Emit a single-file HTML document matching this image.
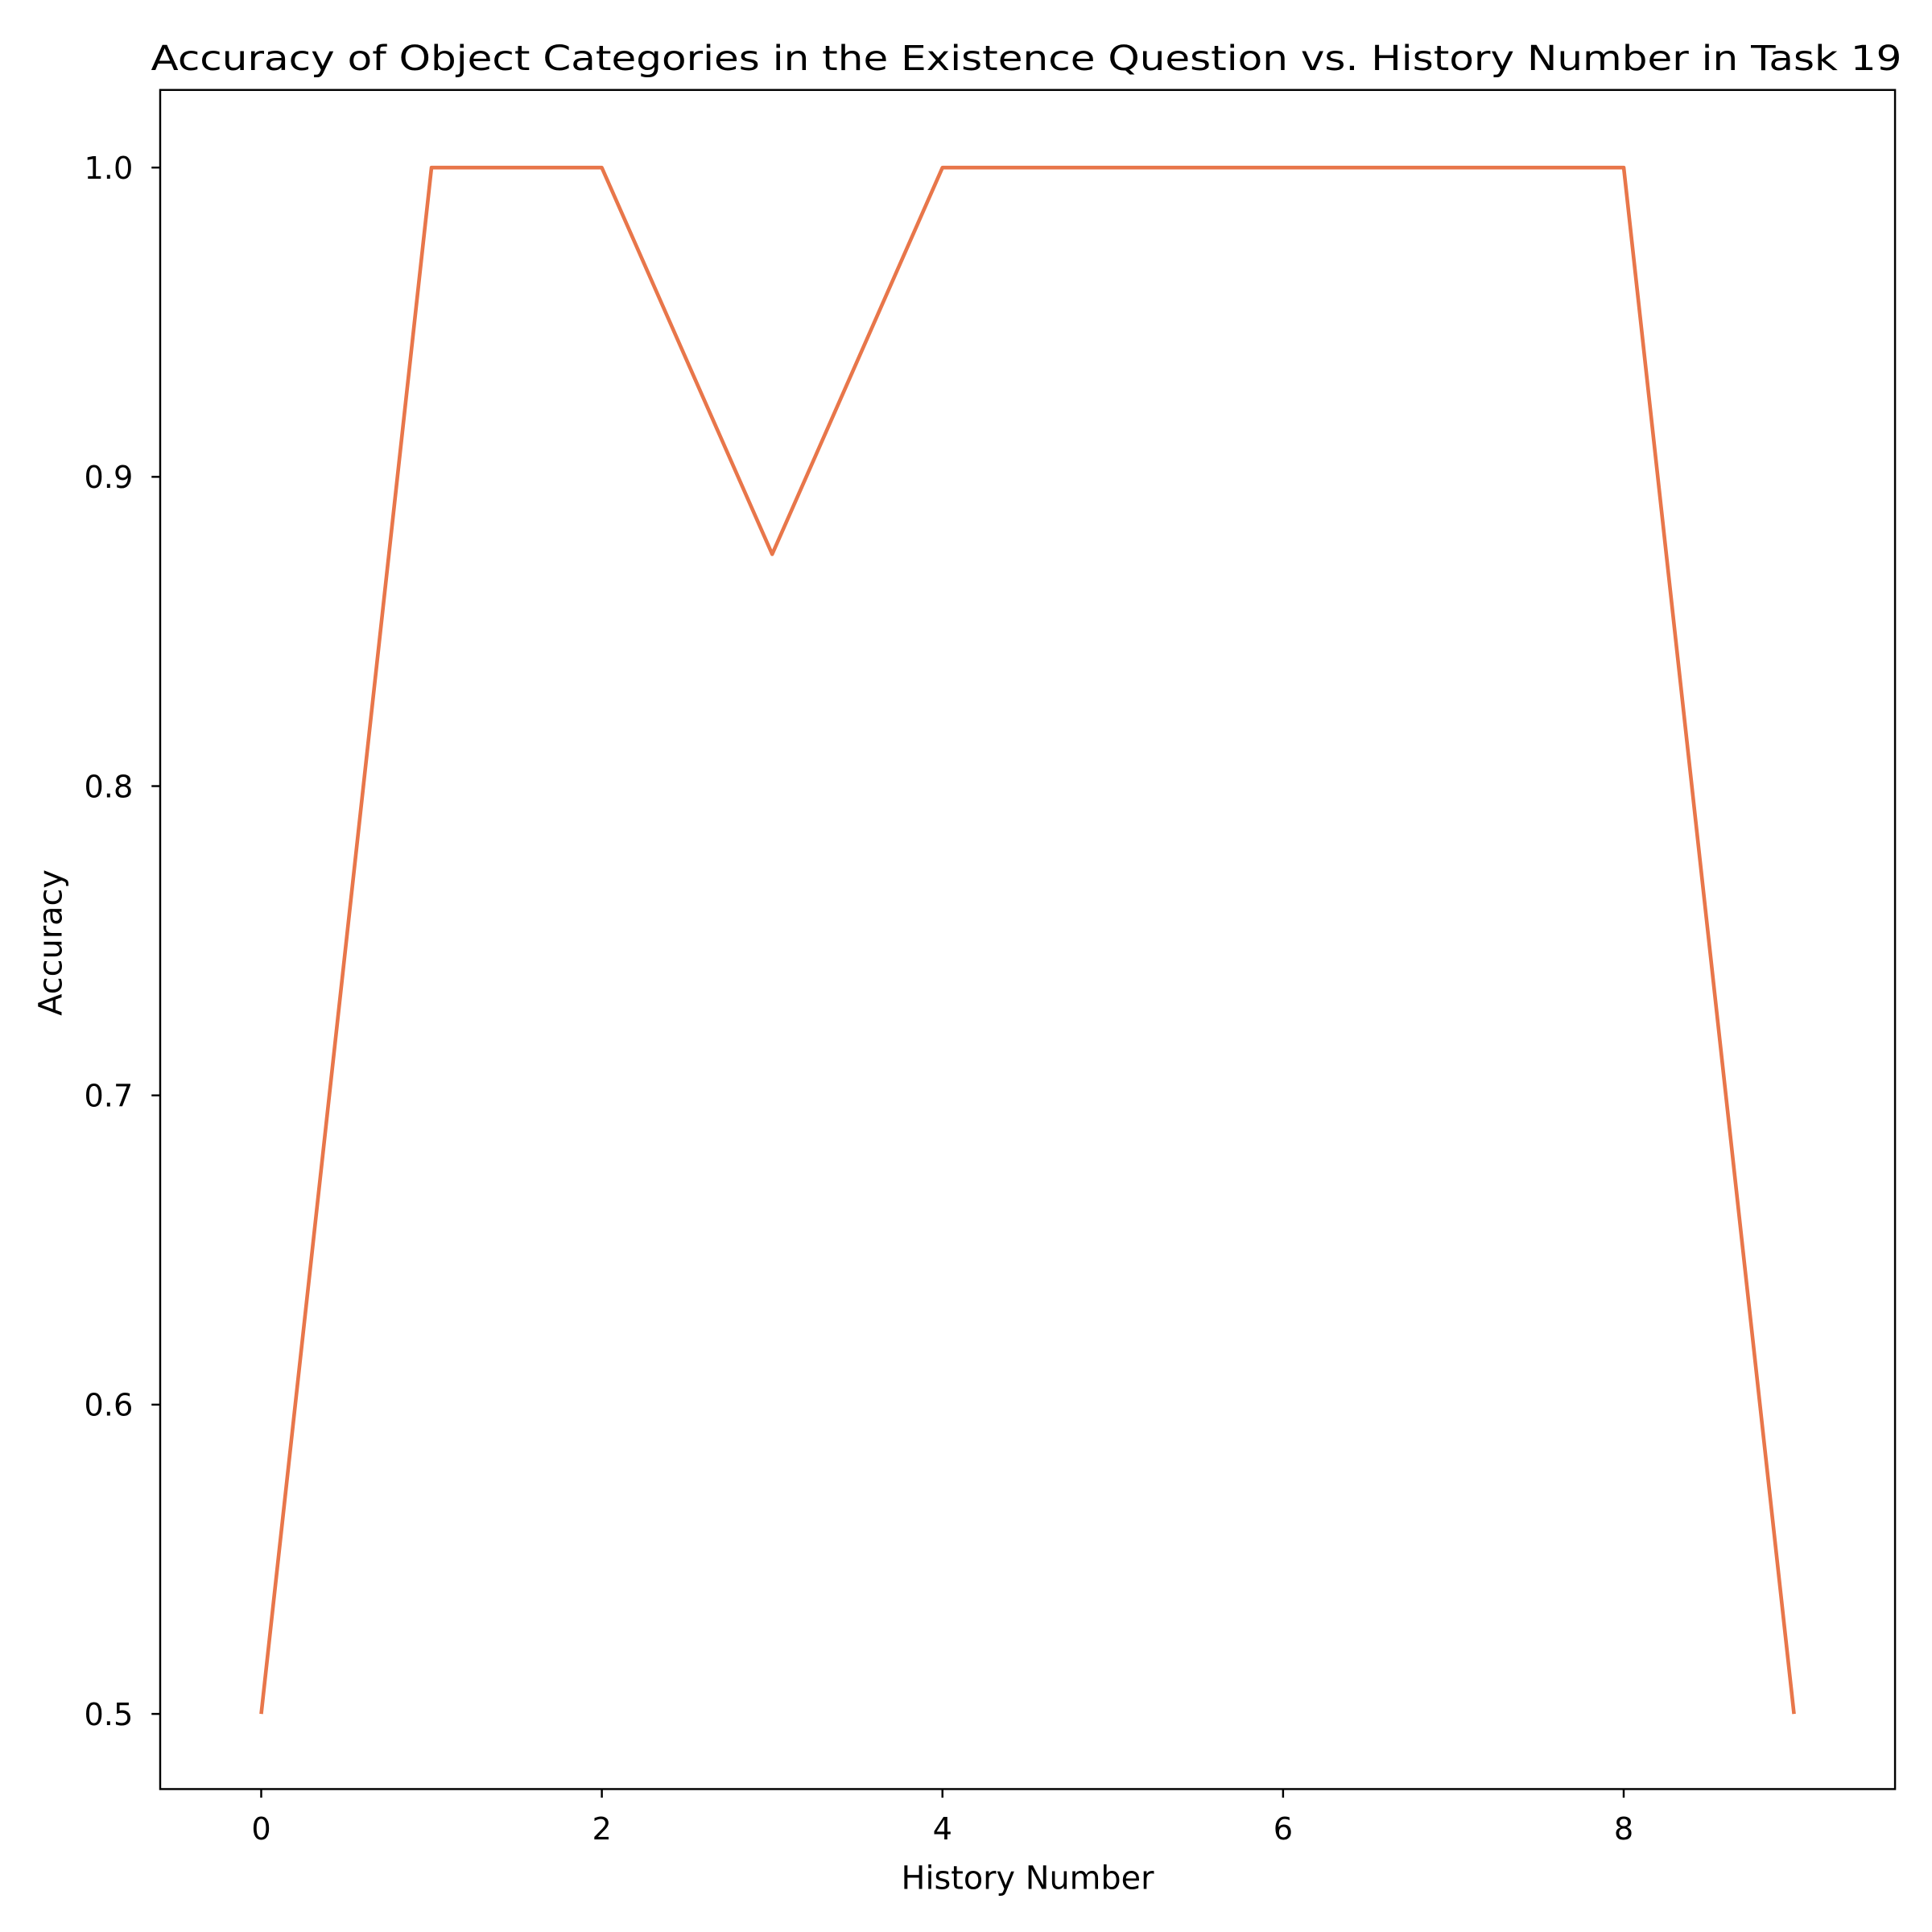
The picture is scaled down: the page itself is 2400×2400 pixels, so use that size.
<!DOCTYPE html>
<html><head><meta charset="utf-8"><style>
html,body{margin:0;padding:0;background:#fff}
svg{display:block}
text{font-family:"DejaVu Sans","Liberation Sans",sans-serif;fill:#000}
</style></head><body>
<svg id="chart" width="2400" height="2400" viewBox="0 0 1568 1568" xmlns="http://www.w3.org/2000/svg">
<rect width="1568" height="1568" fill="#fff"/>
<text x="833" y="57" font-size="28" text-anchor="middle" textLength="1421" lengthAdjust="spacingAndGlyphs">Accuracy of Object Categories in the Existence Question vs. History Number in Task 19</text>
<g id="axes"></g>
<text x="834" y="1533" font-size="26" text-anchor="middle">History Number</text>
<text transform="translate(50,765) rotate(-90)" font-size="26" text-anchor="middle">Accuracy</text>
</svg>
<script>
const historyNumbers=[0,1,2,3,4,5,6,7,8,9];
const accuracyValues=[0.5,1.0,1.0,0.875,1.0,1.0,1.0,1.0,1.0,0.5];
const xTicks=[0,2,4,6,8];
const yTicks=[0.5,0.6,0.7,0.8,0.9,1.0];
const L=130,R=1538,T=73,B=1452;
const xScale=v=>212+(v-0)*(1456-212)/9;
const yScale=v=>1391+(v-0.5)*(136-1391)/0.5;
const NS="http://www.w3.org/2000/svg";
const g=document.getElementById('axes');
function mk(t,a){const e=document.createElementNS(NS,t);for(const k in a)e.setAttribute(k,a[k]);g.appendChild(e);return e;}
const pts=historyNumbers.map((x,i)=>xScale(x).toFixed(1)+','+yScale(accuracyValues[i]).toFixed(1)).join(' ');
const line=mk('polyline',{points:pts,fill:'none',stroke:'#E8764A','stroke-width':3,'stroke-linejoin':'round'});


const frame=mk('rect',{x:L,y:T,width:R-L,height:B-T,fill:'none',stroke:'#000','stroke-width':1.6});


xTicks.forEach(v=>{
  const x=xScale(v);
  const tk=mk('line',{x1:x,x2:x,y1:B,y2:B+7,stroke:'#000','stroke-width':1.6});
  
  
  const t=mk('text',{x:x,y:B+41,'font-size':25,'text-anchor':'middle'});
  t.textContent=v;
  
  
});
yTicks.forEach(v=>{
  const y=yScale(v);
  const tk=mk('line',{x1:L-7,x2:L,y1:y,y2:y,stroke:'#000','stroke-width':1.6});
  
  
  const t=mk('text',{x:L-22,y:y+9,'font-size':25,'text-anchor':'end'});
  t.textContent=v.toFixed(1);
  
  
});
</script>
</body></html>
